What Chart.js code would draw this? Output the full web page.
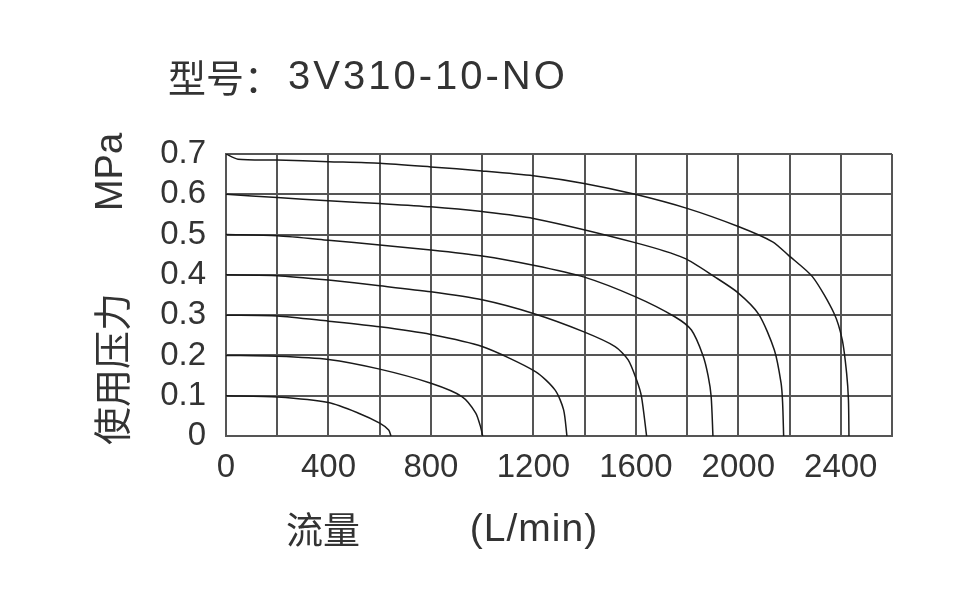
<!DOCTYPE html>
<html>
<head>
<meta charset="utf-8">
<script src="https://cdn.jsdelivr.net/npm/chart.js@4"></script>
<style>
  body { margin: 0; background: #fff; }
  #wrap { width: 963px; height: 604px; }
</style>
</head>
<body>
<div id="wrap"><canvas id="flowChart" width="963" height="604"></canvas></div>
<script>
// flow (L/min) and pressure (MPa), one curve per supply pressure
const flow01 = [0, 200, 400, 520, 600, 635, 644];
const press01 = [0.1, 0.097, 0.083, 0.056, 0.032, 0.015, 0];

const flow02 = [0, 200, 400, 600, 800, 921, 975, 995, 1002];
const press02 = [0.2, 0.198, 0.19, 0.166, 0.131, 0.098, 0.057, 0.02, 0];

const flow03 = [0, 200, 400, 600, 800, 1000, 1208, 1285, 1318, 1331];
const press03 = [0.3, 0.298, 0.285, 0.271, 0.252, 0.222, 0.16, 0.114, 0.065, 0];

const flow04 = [0, 200, 400, 600, 800, 1000, 1200, 1395, 1519, 1570, 1603, 1622, 1642];
const press04 = [0.4, 0.398, 0.387, 0.373, 0.358, 0.338, 0.304, 0.259, 0.222, 0.189, 0.139, 0.098, 0];

const flow05 = [0, 200, 400, 600, 800, 1000, 1200, 1396, 1597, 1752, 1817, 1862, 1882, 1894, 1901];
const press05 = [0.5, 0.497, 0.486, 0.474, 0.462, 0.447, 0.424, 0.395, 0.346, 0.296, 0.263, 0.2, 0.15, 0.098, 0];

const flow06 = [0, 200, 400, 600, 800, 1000, 1200, 1597, 1791, 1908, 1998, 2080, 2141, 2167, 2173, 2177];
const press06 = [0.6, 0.592, 0.584, 0.577, 0.569, 0.557, 0.54, 0.48, 0.441, 0.395, 0.356, 0.302, 0.213, 0.131, 0.082, 0];

const flow07 = [0, 47, 200, 400, 600, 800, 1000, 1200, 1398, 1597, 1800, 2000, 2134, 2195, 2290, 2374, 2406, 2423, 2430, 2432];
const press07 = [0.7, 0.687, 0.685, 0.681, 0.677, 0.668, 0.658, 0.646, 0.627, 0.6, 0.565, 0.52, 0.482, 0.449, 0.395, 0.304, 0.238, 0.155, 0.089, 0];

const curves = [
    [flow01, press01], [flow02, press02], [flow03, press03], [flow04, press04],
    [flow05, press05], [flow06, press06], [flow07, press07]
];

// tick positions: grid every 200 L/min and every 0.1 MPa
const xTickValues = [0, 200, 400, 600, 800, 1000, 1200, 1400, 1600, 1800, 2000, 2200, 2400, 2600];
const xTickLabels = ['0', '', '400', '', '800', '', '1200', '', '1600', '', '2000', '', '2400', ''];
const yTickValues = [0, 0.1, 0.2, 0.3, 0.4, 0.5, 0.6, 0.7];
const yTickLabels = ['0', '0.1', '0.2', '0.3', '0.4', '0.5', '0.6', '0.7'];

const titleText = '型号：';
const modelText = '3V310-10-NO';
const yTitleTop = 'MPa';
const yTitleBottom = '使用压力';
const xTitleLeft = '流量';
const xTitleRight = '(L/min)';

const textColor = '#333';
const gridColor = '#555';
const cjkFont = '"Noto Sans CJK SC", sans-serif';
const latinFont = '"Liberation Sans", Arial, sans-serif';

// texts round the plot (title and the split axis titles)
const labelsPlugin = {
    id: 'labels',
    afterDraw(chart) {
        const ctx = chart.ctx;
        ctx.save();
        ctx.fillStyle = textColor;
        ctx.textBaseline = 'middle';

        // title
        ctx.textAlign = 'left';
        ctx.font = '38px ' + cjkFont;
        ctx.fillText(titleText, 168, 78);
        ctx.font = '40px ' + latinFont;
        ctx.letterSpacing = '3px';
        ctx.fillText(modelText, 288, 78);
        ctx.letterSpacing = '0px';

        // y title, rotated
        ctx.save();
        ctx.translate(112, 0);
        ctx.rotate(-Math.PI / 2);
        ctx.textAlign = 'center';
        ctx.font = '38px ' + latinFont;
        ctx.fillText(yTitleTop, -172, 0);
        ctx.font = '38px ' + cjkFont;
        ctx.fillText(yTitleBottom, -369, 0);
        ctx.restore();

        // x title
        ctx.textAlign = 'center';
        ctx.font = '37px ' + cjkFont;
        ctx.fillText(xTitleLeft, 323, 530);
        ctx.font = '39px ' + latinFont;
        ctx.letterSpacing = '1px';
        ctx.fillText(xTitleRight, 534, 530);
        ctx.restore();
    }
};

var ctx = document.getElementById('flowChart').getContext('2d');
var flowChart = new Chart(ctx, {
    type: 'line',
    data: {
        datasets: curves.map(function (c) {
            return {
                data: c[0].map(function (f, i) { return { x: f, y: c[1][i] }; }),
                borderColor: '#1a1a1a',
                borderWidth: 1.5,
                pointRadius: 0,
                fill: false,
                tension: 0.25
            };
        })
    },
    options: {
        responsive: false,
        animation: false,
        layout: { padding: { top: 154, right: 71, left: 0, bottom: 0 } },
        plugins: {
            legend: { display: false },
            tooltip: { enabled: false }
        },
        scales: {
            x: {
                type: 'linear',
                min: 0,
                max: 2600,
                afterFit: function (scale) { scale.height = 168; },
                afterBuildTicks: function (scale) {
                    scale.ticks = xTickValues.map(function (v) { return { value: v }; });
                },
                ticks: {
                    autoSkip: false,
                    maxRotation: 0,
                    padding: 12,
                    color: textColor,
                    font: { family: latinFont, size: 33 },
                    callback: function (v, i) { return xTickLabels[i]; }
                },
                grid: { color: gridColor, lineWidth: 2, drawTicks: false },
                border: { color: gridColor, width: 2 }
            },
            y: {
                min: 0,
                max: 0.7,
                afterFit: function (scale) { scale.width = 226; },
                afterBuildTicks: function (scale) {
                    scale.ticks = yTickValues.map(function (v) { return { value: v }; });
                },
                ticks: {
                    autoSkip: false,
                    padding: 20,
                    color: textColor,
                    font: { family: latinFont, size: 33 },
                    callback: function (v, i) { return yTickLabels[i]; }
                },
                grid: { color: gridColor, lineWidth: 2, drawTicks: false },
                border: { color: gridColor, width: 2 }
            }
        }
    },
    plugins: [labelsPlugin]
});
</script>
</body>
</html>
